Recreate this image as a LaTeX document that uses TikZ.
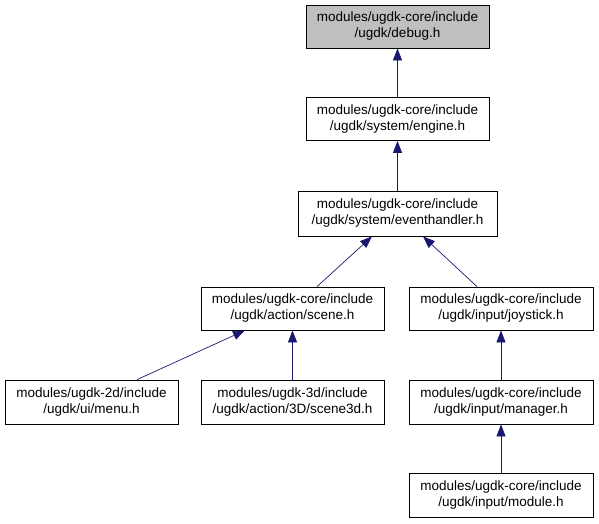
\documentclass[tikz,border=0pt]{standalone}
\usepackage{fontspec}
\setmainfont{Liberation Sans}
\usetikzlibrary{arrows.meta, positioning}
\definecolor{enlace}{HTML}{191970}

\begin{document}
\begin{tikzpicture}[x=1pt, y=-1pt,
            caja/.style={rectangle, draw, line width=0.8pt, fill=white, align=center, inner sep=0pt, minimum height=43pt, minimum width=183pt, font=\fontsize{13.5}{16}\selectfont},
            enlace/.style={draw=enlace, line width=0.7pt, -{Triangle[length=12pt, width=9pt]}, color=enlace}]

            \useasboundingbox (0,0) rectangle (599,523);

            \node[caja, fill=gray!50] (debug) at (397.5, 26.5) {modules/ugdk-core/include\\/ugdk/debug.h};
            \node[caja] (engine) at (397.5, 119) {modules/ugdk-core/include\\/ugdk/system/engine.h};
            \node[caja, minimum width=199pt, minimum height=45pt] (evento) at (397.5, 213.5) {modules/ugdk-core/include\\/ugdk/system/eventhandler.h};
            \node[caja] (escena) at (292.5, 308.5) {modules/ugdk-core/include\\/ugdk/action/scene.h};
            \node[caja, minimum width=184pt] (joystick) at (501, 308.5) {modules/ugdk-core/include\\/ugdk/input/joystick.h};
            \node[caja, minimum width=173pt, minimum height=44pt] (menu) at (91.5, 402) {modules/ugdk-2d/include\\/ugdk/ui/menu.h};
            \node[caja, minimum height=44pt] (escena3d) at (292.5, 402) {modules/ugdk-3d/include\\/ugdk/action/3D/scene3d.h};
            \node[caja, minimum width=184pt, minimum height=44pt] (manager) at (501, 402) {modules/ugdk-core/include\\/ugdk/input/manager.h};
            \node[caja, minimum width=184pt, minimum height=44pt] (modulo) at (501, 495) {modules/ugdk-core/include\\/ugdk/input/module.h};

            \draw[enlace] (engine) -- (debug);
            \draw[enlace] (evento) -- (engine);
            \draw[enlace] ([xshift=24.5pt]escena.north) -- ([xshift=-25.5pt]evento.south);
            \draw[enlace] ([xshift=-24pt]joystick.north) -- ([xshift=25.5pt]evento.south);
            \draw[enlace] ([xshift=45.5pt]menu.north) -- ([xshift=-47.5pt]escena.south);
            \draw[enlace] (escena3d) -- (escena);
            \draw[enlace] (manager) -- (joystick);
            \draw[enlace] (modulo) -- (manager);
\end{tikzpicture}
\end{document}
